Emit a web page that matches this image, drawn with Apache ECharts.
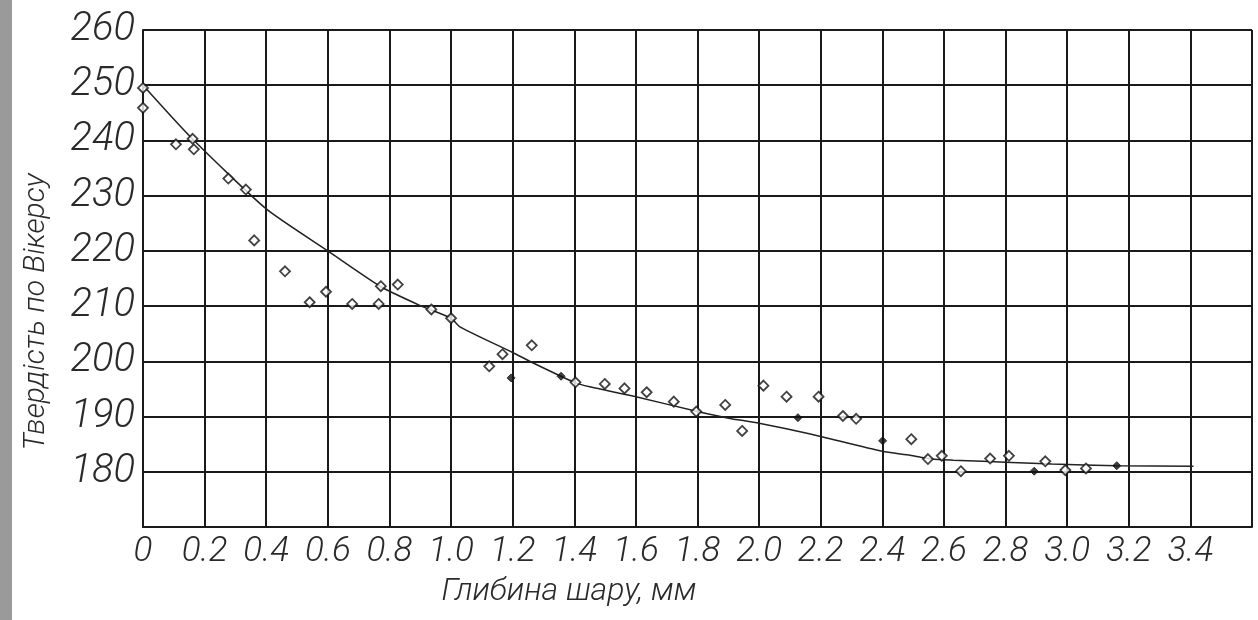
<!DOCTYPE html>
<html>
<head>
<meta charset="utf-8">
<script src="https://cdn.jsdelivr.net/npm/echarts@6/dist/echarts.min.js"></script>
<style>
  html, body { margin: 0; padding: 0; background: #fff; }
  #chart { width: 1258px; height: 620px; }
</style>
</head>
<body>
<div id="chart"></div>
<script>
// вимірювання (глибина, мм / твердість HV)
const hollowPoints = [
  [0.0, 249.5], [0.0, 245.9], [0.107, 239.3], [0.161, 240.3], [0.165, 238.4],
  [0.277, 233.1], [0.334, 231.1], [0.361, 221.9], [0.461, 216.3], [0.541, 210.7],
  [0.594, 212.6], [0.679, 210.4], [0.765, 210.4], [0.772, 213.6], [0.827, 213.9],
  [0.936, 209.4], [1.0, 207.8], [1.124, 199.1], [1.167, 201.3], [1.262, 202.9],
  [1.404, 196.2], [1.499, 195.9], [1.563, 195.1], [1.635, 194.4], [1.723, 192.7],
  [1.796, 190.9], [1.89, 192.1], [1.945, 187.4], [2.014, 195.6], [2.089, 193.6],
  [2.193, 193.6], [2.272, 190.1], [2.315, 189.6], [2.494, 185.9], [2.548, 182.3],
  [2.593, 182.9], [2.655, 180.1], [2.75, 182.4], [2.811, 182.9], [2.929, 181.9],
  [2.994, 180.3], [3.061, 180.6]
]
const filledPoints = [
  [1.195, 197.0], [1.357, 197.3], [2.126, 189.8], [2.401, 185.6], [2.893, 180.1], [3.161, 181.1]
]
// апроксимуюча крива
const trendLine = [
  [0, 250], [0.16, 240.3], [0.4, 227.6], [0.6, 220.0], [0.77, 213.6], [0.9, 210.1],
  [1.0, 207.8], [1.03, 206.2], [1.2, 201.6], [1.27, 199.6], [1.4, 196.2], [1.45, 195.4],
  [1.6, 193.6], [1.8, 190.9], [1.9, 189.7], [2.0, 188.8], [2.17, 186.8], [2.4, 183.7],
  [2.49, 183.0], [2.56, 182.3], [2.63, 182.1], [2.82, 181.7], [2.95, 181.4],
  [3.16, 181.1], [3.41, 181.0]
]
const xTicks = { min: 0, max: 3.6, step: 0.2 }
const yTicks = { min: 170, max: 260, step: 10 }
const xTitle = 'Глибина шару, мм'
const yTitle = 'Твердість по Вікерсу'

const chart = echarts.init(document.getElementById('chart'))

const labelFont = {
  fontFamily: 'Roboto',
  fontStyle: 'italic',
  fontWeight: 300,
  color: '#2a2a2a'
}
const gridLine = { color: '#1a1a1a', width: 2 }

const option = {
  animation: false,
  backgroundColor: '#fff',
  grid: { left: 143, top: 30, right: 6, bottom: 93 },
  xAxis: {
    type: 'value',
    min: xTicks.min,
    max: xTicks.max,
    interval: xTicks.step,
    axisLine: { show: true, lineStyle: gridLine },
    axisTick: { show: false },
    splitLine: { show: true, lineStyle: gridLine },
    axisLabel: {
      ...labelFont,
      fontSize: 35,
      margin: 8,
      formatter: v => {
        if (Math.abs(v - xTicks.max) < 1e-6) return ''
        return v === 0 ? '0' : v.toFixed(1)
      }
    }
  },
  yAxis: {
    type: 'value',
    min: yTicks.min,
    max: yTicks.max,
    interval: yTicks.step,
    axisLine: { show: true, lineStyle: gridLine },
    axisTick: { show: false },
    splitLine: { show: true, lineStyle: gridLine },
    axisLabel: {
      ...labelFont,
      fontSize: 40,
      margin: 8,
      formatter: v => (v === yTicks.min ? '' : String(v))
    }
  },
  graphic: [
    {
      type: 'rect',
      left: 0, top: 0,
      shape: { width: 12, height: 620 },
      style: { fill: '#9a9a9a' }
    },
    {
      type: 'text',
      x: 569, y: 592,
      style: {
        text: xTitle,
        font: 'italic 300 32px Roboto',
        fill: '#2a2a2a',
        align: 'center',
        verticalAlign: 'middle'
      }
    },
    {
      type: 'text',
      x: 36, y: 312,
      rotation: Math.PI / 2,
      style: {
        text: yTitle,
        font: 'italic 300 30px Roboto',
        fill: '#2a2a2a',
        align: 'center',
        verticalAlign: 'middle'
      }
    }
  ],
  series: [
    {
      type: 'line',
      data: trendLine,
      smooth: 0.2,
      showSymbol: false,
      lineStyle: { color: '#222', width: 1.5 },
      z: 3
    },
    {
      type: 'scatter',
      data: hollowPoints,
      symbol: 'diamond',
      symbolSize: 10,
      itemStyle: { color: '#fff', borderColor: '#111', borderWidth: 1.8 },
      z: 4
    },
    {
      type: 'scatter',
      data: filledPoints,
      symbol: 'diamond',
      symbolSize: 8,
      itemStyle: { color: '#111', borderColor: '#111', borderWidth: 1 },
      z: 4
    }
  ]
}

chart.setOption(option)
</script>
</body>
</html>
